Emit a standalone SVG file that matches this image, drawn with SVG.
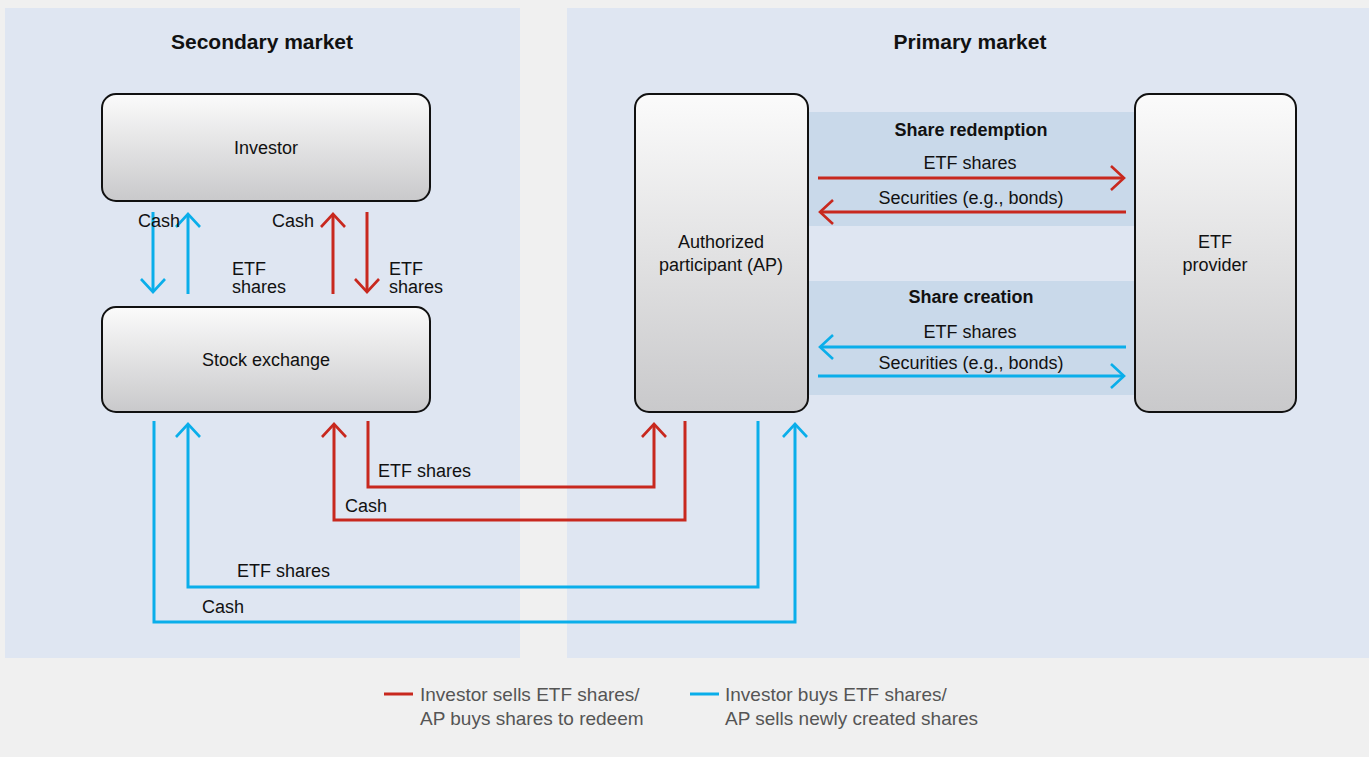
<svg xmlns="http://www.w3.org/2000/svg" width="1369" height="757" viewBox="0 0 1369 757">
<defs>
<linearGradient id="g" x1="0" y1="0" x2="0" y2="1">
<stop offset="0" stop-color="#fbfbfb"/>
<stop offset="1" stop-color="#c9c9cb"/>
</linearGradient>
<marker id="hr" markerUnits="userSpaceOnUse" markerWidth="40" markerHeight="40" refX="0" refY="0" orient="auto" overflow="visible">
<path d="M-13,-12 L0,0 L-13,12" fill="none" stroke="#c8281e" stroke-width="2.6"/>
</marker>
<marker id="hb" markerUnits="userSpaceOnUse" markerWidth="40" markerHeight="40" refX="0" refY="0" orient="auto" overflow="visible">
<path d="M-13,-12 L0,0 L-13,12" fill="none" stroke="#0aaeea" stroke-width="2.6"/>
</marker>
</defs>
<style>
.t{font-family:"Liberation Sans",Arial,sans-serif;font-size:18px;fill:#111}
.b{font-family:"Liberation Sans",Arial,sans-serif;font-size:18px;font-weight:bold;fill:#111}
.h{font-family:"Liberation Sans",Arial,sans-serif;font-size:21px;font-weight:bold;fill:#111}
.lg{font-family:"Liberation Sans",Arial,sans-serif;font-size:19px;fill:#555}
.m{text-anchor:middle}
.box{fill:url(#g);stroke:#111;stroke-width:2}
.r{fill:none;stroke:#c8281e;stroke-width:3}
.u{fill:none;stroke:#0aaeea;stroke-width:3}
.ra{marker-end:url(#hr)}
.ba{marker-end:url(#hb)}
</style>
<rect x="0" y="0" width="1369" height="757" fill="#f0f0f0"/>
<g id="panels">
<rect x="5" y="8" width="515" height="650" fill="#dfe6f2"/>
<rect x="567" y="8" width="802" height="650" fill="#dfe6f2"/>
<rect x="809" y="112" width="326" height="114" fill="#c9d9ea"/>
<rect x="809" y="281" width="326" height="114" fill="#c9d9ea"/>
<text class="h m" x="262" y="49">Secondary market</text>
<text class="h m" x="970" y="49">Primary market</text>
<text class="b m" x="971" y="136">Share redemption</text>
<text class="b m" x="971" y="303">Share creation</text>
</g>
<g id="investor">
<rect class="box" x="102" y="94" width="328" height="107" rx="14"/>
<text class="t m" x="266" y="154">Investor</text>
</g>
<g id="stock-exchange">
<rect class="box" x="102" y="307" width="328" height="105" rx="14"/>
<text class="t m" x="266" y="366">Stock exchange</text>
</g>
<g id="ap">
<rect class="box" x="635" y="94" width="173" height="318" rx="14"/>
<text class="t m" x="721" y="248">Authorized</text>
<text class="t m" x="721" y="271">participant (AP)</text>
</g>
<g id="etf-provider">
<rect class="box" x="1135" y="94" width="161" height="318" rx="14"/>
<text class="t m" x="1215" y="248">ETF</text>
<text class="t m" x="1215" y="271">provider</text>
</g>
<g id="connectors">
<line class="u ba" x1="153" y1="212" x2="153" y2="292"/>
<line class="u ba" x1="188" y1="294" x2="188" y2="214"/>
<line class="r ra" x1="333" y1="294" x2="333" y2="214"/>
<line class="r ra" x1="367" y1="212" x2="367" y2="292"/>
<text class="t" x="138" y="227">Cash</text>
<text class="t" x="272" y="227">Cash</text>
<text class="t" x="232" y="275">ETF</text>
<text class="t" x="232" y="293">shares</text>
<text class="t" x="389" y="275">ETF</text>
<text class="t" x="389" y="293">shares</text>

<line class="r ra" x1="818" y1="178" x2="1124" y2="178"/>
<line class="r ra" x1="1126" y1="212" x2="820" y2="212"/>
<line class="u ba" x1="1126" y1="347" x2="820" y2="347"/>
<line class="u ba" x1="818" y1="376" x2="1124" y2="376"/>
<text class="t m" x="970" y="169">ETF shares</text>
<text class="t m" x="971" y="204">Securities (e.g., bonds)</text>
<text class="t m" x="970" y="338">ETF shares</text>
<text class="t m" x="971" y="369">Securities (e.g., bonds)</text>

<polyline class="r ra" points="368,421 368,487 654,487 654,424"/>
<polyline class="r ra" points="685,421 685,520 334,520 334,424"/>
<polyline class="u ba" points="758,421 758,587 188,587 188,424"/>
<polyline class="u ba" points="154,421 154,622 795,622 795,424"/>
<text class="t" x="378" y="477">ETF shares</text>
<text class="t" x="345" y="512">Cash</text>
<text class="t" x="237" y="577">ETF shares</text>
<text class="t" x="202" y="613">Cash</text>
</g>
<g id="legend">
<line x1="384" y1="694" x2="413" y2="694" stroke="#c8281e" stroke-width="3"/>
<text class="lg" x="420" y="701">Investor sells ETF shares/</text>
<text class="lg" x="420" y="725">AP buys shares to redeem</text>
<line x1="690" y1="694" x2="719" y2="694" stroke="#0aaeea" stroke-width="3"/>
<text class="lg" x="725" y="701">Investor buys ETF shares/</text>
<text class="lg" x="725" y="725">AP sells newly created shares</text>
</g>
</svg>
